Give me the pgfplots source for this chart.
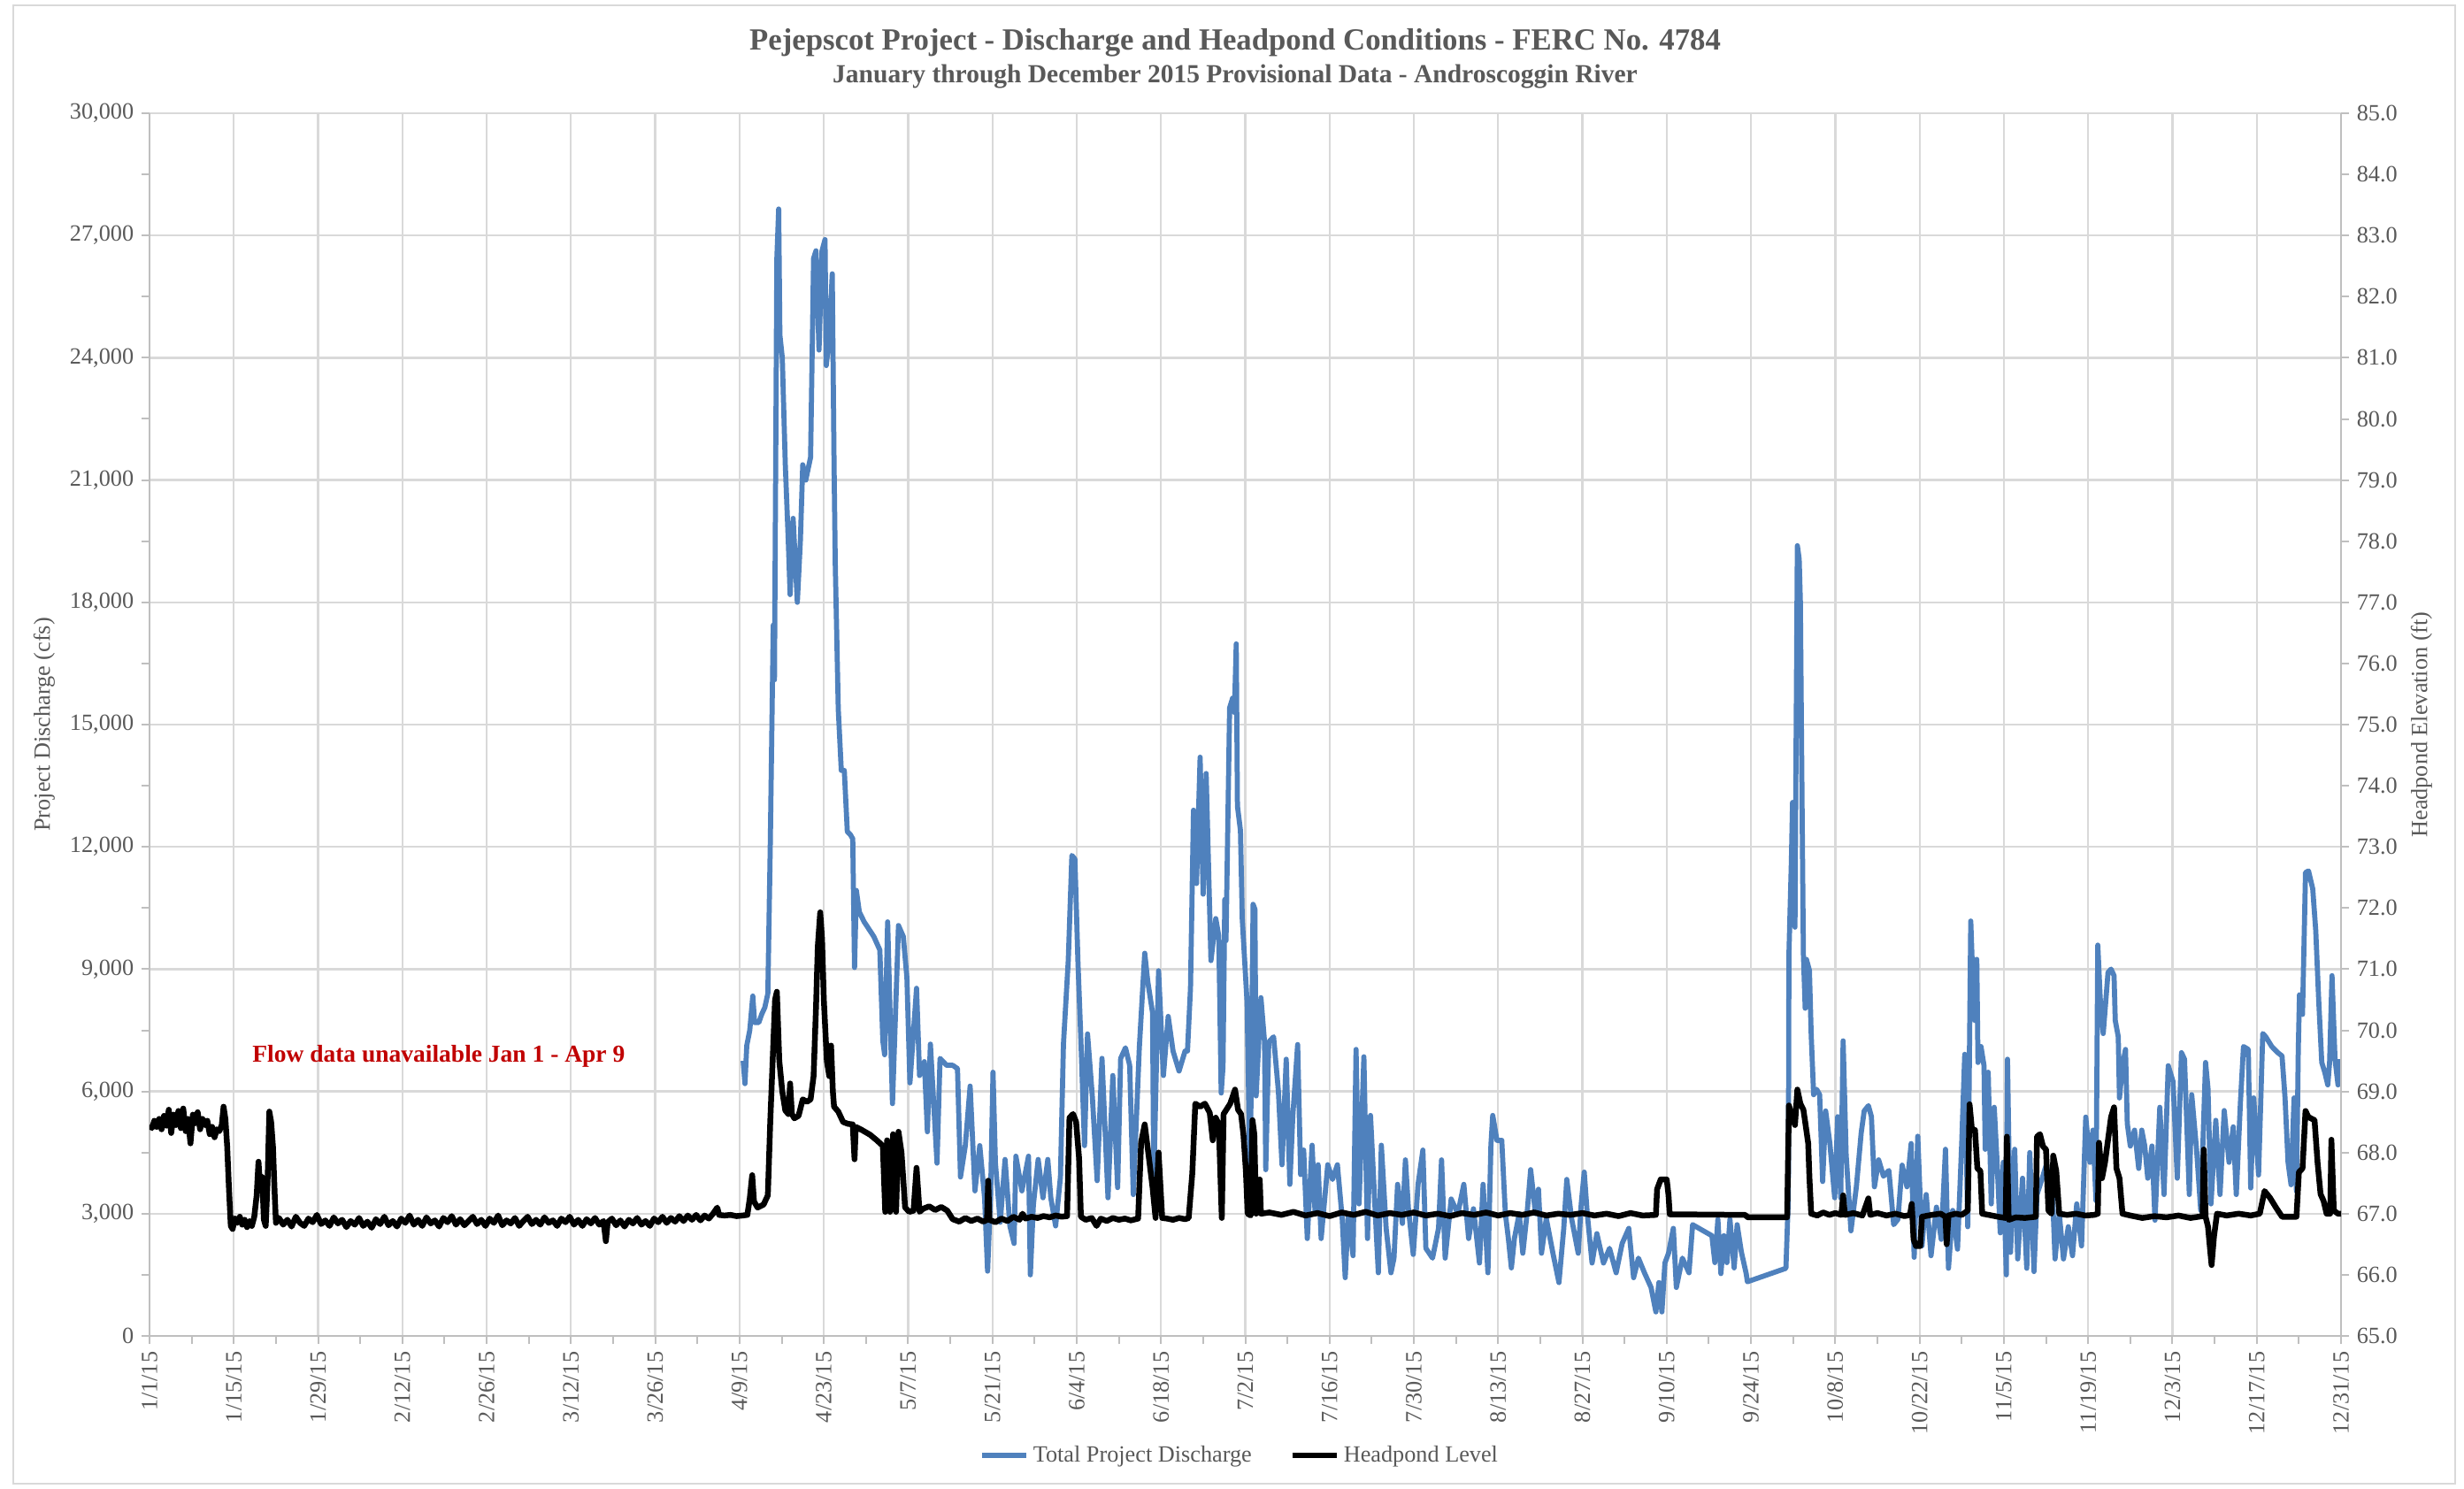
\documentclass[border=0pt]{standalone}
\usepackage{pgfplots}
\pgfplotsset{compat=1.18}
\usepackage{pgfplotstable}
\usepackage{fontspec}
\setmainfont{Liberation Serif}
\definecolor{discharge}{HTML}{4F81BD}
\definecolor{txt}{HTML}{595959}
\definecolor{gridc}{HTML}{D9D9D9}
\definecolor{axisc}{HTML}{BFBFBF}
\definecolor{redtxt}{HTML}{C00000}

\pgfplotstableread{
day cfs
98.6 6750
98.9 6190
99.2 7125
99.7 7500
100.2 8340
100.5 7690
101.2 7690
101.7 7900
102.2 8060
102.7 8400
103.1 12000
103.6 17440
103.8 16100
104.2 26440
104.5 27650
104.7 24560
105.1 24000
105.6 21375
106.1 19500
106.4 18190
106.9 20060
107.6 18000
108.1 19500
108.5 21375
109.0 21000
109.8 21560
110.3 26440
110.7 26625
111.2 24190
111.7 26625
112.2 26900
112.4 23810
112.9 24500
113.4 26060
113.7 21375
113.9 18940
114.4 15375
114.9 13875
115.4 13875
115.9 12375
116.4 12300
116.8 12200
117.1 9040
117.4 10930
117.9 10400
118.7 10160
120.3 9800
121.3 9470
121.8 7240
122.1 6900
122.6 10160
123.4 5700
124.4 10070
125.2 9800
125.8 8790
126.3 6210
127.4 8530
127.9 6390
128.7 6730
129.2 5010
129.7 7160
130.8 4240
131.3 6810
132.4 6640
133.4 6640
134.2 6560
134.7 3900
135.5 4670
136.3 6130
137.1 3560
137.9 4670
138.7 3390
139.2 1590
139.7 3470
140.1 6470
140.5 4240
141.3 2790
142.1 4330
142.9 2700
143.6 2270
143.9 4410
144.9 3560
146.0 4410
146.3 1500
146.8 3210
147.6 4330
148.4 3390
149.2 4330
149.7 3390
150.5 2700
151.3 3900
151.8 7160
152.6 9210
153.2 11790
153.7 11700
154.2 9210
154.7 7240
155.3 4670
155.8 7410
156.6 5870
157.4 3810
158.2 6810
159.2 3390
160.0 6390
160.8 3640
161.3 6810
162.1 7070
162.8 6640
163.4 3470
164.4 7070
165.3 9390
165.8 8700
166.6 7930
166.8 3810
167.6 8960
168.4 6390
169.2 7840
170.0 6990
171.0 6500
172.0 6990
172.4 6990
172.9 8530
173.4 12900
173.9 11100
174.5 14200
175.0 10840
175.5 13800
176.3 9210
177.1 10240
177.6 9810
178.0 5960
178.3 6610
178.6 10710
178.8 9700
179.4 15410
179.9 15650
180.2 15300
180.5 16980
180.7 13000
181.2 12400
181.5 10230
182.3 8180
182.8 3720
183.3 10590
183.6 10470
183.8 5890
184.6 8300
185.2 7210
185.4 4080
185.9 7210
186.7 7340
187.5 6010
188.1 4200
188.8 6790
189.4 3720
189.9 5410
190.7 7150
191.2 3960
191.7 4560
192.3 2390
193.1 4680
193.6 3000
194.1 4200
194.6 2390
195.7 4200
196.5 3840
197.3 4200
198.1 2880
198.6 1430
199.1 3000
199.9 1970
200.4 7030
200.9 3240
201.7 6850
202.3 2390
202.8 5410
203.6 3000
204.1 1550
204.6 4680
205.4 2640
206.2 1550
206.7 1910
207.3 3720
208.1 2760
208.6 4320
209.1 3120
209.9 2000
210.7 3720
211.5 4560
212.0 2150
213.1 1910
214.1 2640
214.6 4320
215.2 1910
216.2 3360
217.3 3000
218.3 3720
219.1 2390
219.9 3120
220.9 1790
221.5 3720
222.3 1550
222.8 4680
223.1 5410
223.8 4800
224.6 4800
225.2 3000
225.7 2390
226.2 1670
226.7 2390
227.5 3000
228.1 2030
228.8 3000
229.4 4080
230.2 3000
230.7 3600
231.2 2030
232.0 2880
233.1 2030
234.1 1310
234.9 2640
235.4 3840
236.2 2880
237.3 2030
237.8 3240
238.3 4020
238.8 3000
239.6 1790
240.4 2510
241.5 1790
242.5 2150
243.6 1550
244.6 2270
245.7 2640
246.5 1430
247.3 1910
248.3 1550
249.4 1190
250.2 590
250.7 1310
251.2 590
251.7 1790
252.3 2030
253.1 2640
253.6 1190
254.6 1910
255.7 1550
256.3 2730
259.5 2460
260.0 1800
260.5 2860
261.0 1530
261.5 2460
262.0 1800
262.5 2860
263.2 1670
263.7 2730
264.4 2060
265.2 1530
265.4 1330
271.8 1660
272.2 3390
272.3 9370
272.7 11620
272.9 13090
273.3 10030
273.5 14810
273.7 19390
274.0 19060
274.2 18000
274.5 12690
274.7 9370
275.0 8040
275.2 9240
275.7 8970
276.0 7380
276.4 5920
276.9 6050
277.4 5920
277.9 3790
278.4 5520
279.1 4720
279.9 3390
280.4 5380
280.9 3390
281.3 7240
281.8 4450
282.6 2580
283.5 3660
284.3 4980
284.8 5520
285.5 5650
286.0 5380
286.5 3660
287.2 4320
288.0 3920
288.9 4060
289.7 2730
290.4 2860
291.1 4190
291.9 3660
292.6 4720
293.1 1930
293.7 4900
294.4 2210
295.1 3470
295.9 1970
296.8 3160
297.6 2370
298.3 4580
298.8 1660
299.5 3080
300.3 2130
301.0 4740
301.5 6910
302.0 2680
302.5 10180
302.7 9320
303.2 7740
303.5 9240
303.7 6710
304.2 7100
304.7 6630
304.9 4580
305.4 6470
305.9 3240
306.4 5610
306.9 4180
307.4 2530
307.9 4260
308.4 1500
308.6 6790
309.1 2050
309.8 4580
310.3 1890
311.1 3870
311.8 1660
312.3 4500
313.0 1580
313.5 3470
314.2 3790
315.0 4180
316.0 3790
316.5 1890
317.2 3000
317.9 1890
318.7 2680
319.4 1970
320.1 3240
320.9 2210
321.6 5370
322.3 4260
322.8 5050
323.3 3320
323.6 9590
324.0 8290
324.5 7420
325.3 8920
325.8 9000
326.3 8840
326.5 7740
327.0 7340
327.2 5840
327.7 6630
328.2 7030
328.5 5210
329.0 4660
329.7 5050
330.4 4110
330.9 5050
331.4 4660
331.9 3870
332.6 4660
333.1 2840
333.9 5610
334.6 3470
335.3 6630
336.1 6240
336.8 3870
337.5 6950
338.0 6790
338.8 3470
339.2 5920
340.0 4580
340.7 3080
341.5 6710
341.9 6080
342.4 3240
343.2 5290
343.9 3470
344.6 5530
345.4 4260
346.1 5130
346.6 3470
347.3 5760
347.8 7100
348.6 7030
349.0 3630
349.5 5840
350.3 3950
351.0 7420
351.5 7340
352.5 7100
353.5 6950
354.2 6870
354.7 5840
355.2 4260
355.7 3710
356.2 5840
356.6 3550
356.9 7030
357.1 8370
357.6 7890
357.9 9950
358.1 11370
358.6 11410
359.3 10970
359.8 9950
360.3 8210
360.8 6710
361.3 6470
361.8 6160
362.1 6710
362.5 8840
363.0 6790
363.5 6160
363.8 6790
}\dischargetable

\pgfplotstableread{
day ft
0 68.45
0.4 68.40
0.8 68.52
1.2 68.42
1.6 68.55
2.0 68.38
2.4 68.60
2.8 68.44
3.2 68.70
3.6 68.32
4.0 68.62
4.4 68.45
4.8 68.68
5.2 68.40
5.6 68.72
6.0 68.35
6.4 68.55
6.8 68.15
7.2 68.62
7.6 68.48
8.0 68.66
8.4 68.38
8.8 68.55
9.2 68.45
9.6 68.52
10.0 68.30
10.4 68.42
10.8 68.25
11.2 68.38
11.6 68.35
12.0 68.45
12.3 68.75
12.6 68.55
12.9 68.10
13.2 67.40
13.5 66.80
13.8 66.75
14.2 66.92
14.6 66.85
15.0 66.95
15.4 66.82
15.8 66.90
16.2 66.78
16.6 66.88
17.0 66.80
17.4 66.95
17.8 67.30
18.1 67.85
18.4 67.40
18.7 67.60
19.0 66.90
19.3 66.80
19.6 67.50
19.9 68.67
20.2 68.50
20.5 68.10
20.8 67.30
21.0 66.85
21.5 66.93
22.2 66.82
22.9 66.90
23.6 66.79
24.3 66.95
25.0 66.85
25.7 66.80
26.4 66.92
27.1 66.86
27.8 66.98
28.5 66.83
29.2 66.89
29.9 66.80
30.6 66.94
31.3 66.84
32.0 66.90
32.7 66.78
33.4 66.88
34.1 66.82
34.8 66.93
35.5 66.80
36.2 66.87
36.9 66.77
37.6 66.91
38.3 66.83
39.0 66.95
39.7 66.81
40.4 66.88
41.1 66.79
41.8 66.92
42.5 66.85
43.2 66.97
43.9 66.82
44.6 66.90
45.3 66.80
46.0 66.94
46.7 66.84
47.4 66.89
48.1 66.79
48.8 66.93
49.5 66.86
50.2 66.96
50.9 66.82
51.6 66.91
52.3 66.81
53.0 66.88
53.7 66.95
54.4 66.83
55.1 66.90
55.8 66.80
56.5 66.92
57.2 66.85
57.9 66.97
58.6 66.81
59.3 66.89
60.0 66.84
60.7 66.93
61.4 66.80
62.1 66.88
62.8 66.95
63.5 66.83
64.2 66.90
64.9 66.82
65.6 66.94
66.3 66.85
67.0 66.89
67.7 66.80
68.4 66.92
69.1 66.86
69.8 66.95
70.5 66.82
71.2 66.90
71.9 66.80
72.6 66.91
73.3 66.84
74.0 66.93
74.7 66.82
75.4 66.88
75.8 66.55
76.1 66.86
76.8 66.92
77.5 66.81
78.2 66.89
78.9 66.79
79.6 66.90
80.3 66.84
81.0 66.93
81.7 66.82
82.4 66.88
83.1 66.80
83.8 66.92
84.5 66.86
85.2 66.95
85.9 66.85
86.6 66.93
87.3 66.87
88.0 66.96
88.7 66.88
89.4 66.97
90.1 66.90
90.8 66.98
91.5 66.89
92.2 66.97
92.9 66.92
93.6 67.00
94.3 67.10
94.6 66.98
95.5 66.97
96.5 66.98
97.5 66.96
98.5 66.97
99.3 66.98
99.7 67.25
100.1 67.63
100.4 67.20
101.0 67.10
102.0 67.15
102.7 67.30
103.1 68.50
103.6 69.75
103.9 70.50
104.2 70.63
104.6 69.50
105.1 69.00
105.6 68.69
106.1 68.63
106.4 69.13
106.7 68.63
107.1 68.56
107.8 68.60
108.5 68.87
109.2 68.83
109.8 68.87
110.3 69.25
110.7 70.37
111.0 71.37
111.4 71.93
111.7 71.50
112.0 70.50
112.5 69.50
112.9 69.25
113.2 69.75
113.5 69.00
113.7 68.75
114.4 68.67
115.2 68.50
116.0 68.47
116.8 68.46
117.1 67.89
117.3 68.42
118.3 68.37
119.7 68.29
120.8 68.20
121.8 68.11
122.2 67.03
122.5 68.20
123.0 67.03
123.5 68.30
124.0 67.03
124.4 68.34
124.9 68.00
125.5 67.10
126.2 67.03
126.9 67.05
127.4 67.75
127.9 67.03
128.5 67.08
129.5 67.12
130.5 67.06
131.5 67.11
132.5 67.05
133.4 66.91
134.5 66.87
135.5 66.93
136.5 66.88
137.5 66.92
138.5 66.87
139.1 66.90
139.3 67.54
139.5 66.90
140.5 66.86
141.5 66.92
142.5 66.88
143.5 66.95
144.5 66.90
145.0 67.00
145.5 66.92
146.5 66.95
147.5 66.93
148.5 66.96
149.5 66.94
150.5 66.97
151.5 66.95
152.4 66.96
152.8 68.57
153.4 68.63
153.9 68.50
154.4 67.90
154.7 66.95
155.5 66.90
156.5 66.93
157.3 66.80
158.0 66.92
159.0 66.88
160.0 66.93
161.0 66.90
162.0 66.92
163.0 66.89
164.2 66.92
164.7 68.17
165.3 68.46
166.1 67.83
166.6 67.43
167.1 66.93
167.6 68.00
168.2 66.93
169.0 66.92
170.0 66.90
171.0 66.93
172.0 66.91
172.6 66.93
173.2 67.66
173.7 68.80
174.5 68.75
175.3 68.80
176.1 68.65
176.6 68.20
177.1 68.57
177.6 68.46
178.1 66.93
178.4 68.63
179.5 68.80
180.3 69.03
180.8 68.70
181.3 68.63
181.7 68.29
182.1 67.70
182.4 67.00
182.9 66.97
183.2 68.53
183.5 68.30
183.8 67.00
184.4 67.56
184.6 67.00
186 67.02
188 66.98
190 67.03
192 66.97
194 67.01
196 66.96
198 67.02
200 66.98
202 67.03
204 66.97
206 67.01
208 66.98
210 67.02
212 66.97
214 67.00
216 66.96
218 67.01
220 66.98
222 67.02
224 66.97
226 67.01
228 66.98
230 67.02
232 66.97
234 67.00
236 66.98
238 67.01
240 66.97
242 67.00
244 66.96
246 67.01
248 66.97
250.2 66.98
250.4 67.40
251.0 67.56
252.0 67.56
252.3 67.30
252.5 66.99
265.0 66.98
265.5 66.94
272.0 66.94
272.3 68.77
272.8 68.60
273.3 68.45
273.7 69.03
274.2 68.80
274.7 68.70
275.0 68.50
275.5 68.15
275.7 67.60
276.0 67.00
277 66.97
278 67.02
279 66.98
280 67.01
281.0 66.98
281.3 67.30
281.6 66.98
283 67.01
284.5 66.97
285.5 67.25
285.8 66.98
287 67.01
288.5 66.97
290 67.00
291.5 66.96
292.4 66.98
292.7 67.16
293.0 66.58
293.4 66.47
294.1 66.47
294.4 66.95
296 66.98
297.5 67.00
298.3 66.95
298.5 66.50
298.8 66.97
300 67.00
301 66.98
302.0 67.05
302.3 68.79
302.7 68.37
303.2 68.37
303.6 67.74
304.1 67.70
304.4 67.00
305.5 66.98
307.0 66.95
308.3 66.93
308.5 68.26
308.8 66.90
310 66.94
311.5 66.93
313.3 66.95
313.5 68.26
314.0 68.30
314.5 68.10
315.0 68.05
315.4 67.05
315.9 67.00
316.2 67.95
316.7 67.70
317.2 67.00
318.5 66.98
320 67.00
321.5 66.97
323.0 66.98
323.6 67.00
323.8 68.16
324.3 67.58
324.8 67.84
325.8 68.58
326.3 68.74
326.7 67.74
327.2 67.58
327.7 67.00
329 66.97
331 66.93
333 66.96
335 66.94
337 66.97
339 66.93
341.0 66.96
341.2 68.05
341.5 66.95
341.9 66.79
342.2 66.47
342.5 66.16
342.9 66.63
343.4 67.00
345 66.97
347 67.00
349 66.97
350.5 67.00
351.3 67.37
352.2 67.26
353.2 67.10
354.2 66.95
356.6 66.95
357.0 67.68
357.6 67.74
358.1 68.68
358.6 68.58
359.6 68.53
360.1 67.84
360.6 67.32
361.1 67.21
361.6 67.00
362.2 67.00
362.4 68.21
362.8 67.05
363.5 67.00
364 67.00
}\headpondtable

\pgfplotsset{
  /pgf/number format/assume math mode=true,
  every axis/.append style={
    scale only axis,
    width=990.8pt, height=552.8pt,
    at={(0pt,0pt)}, anchor=south west,
    xmin=0, xmax=364,
    tick label style={font=\fontsize{10.5}{12}\selectfont, color=txt},
    label style={font=\fontsize{10.5}{12}\selectfont, color=txt},
    axis line style={color=axisc, line width=1pt, -},
    every tick/.style={color=axisc, line width=0.8pt},
    major tick length=3.6pt, minor tick length=3.6pt,
    tick align=outside,
  },
}

\begin{document}
\begin{tikzpicture}
\useasboundingbox (-67.6pt,-68.8pt) rectangle (1046.4pt,604pt);
\fill[white] (-67.6pt,-68.8pt) rectangle (1046.4pt,604pt);
\draw[color=gridc, line width=0.9pt] (-61.6pt,-66.8pt) rectangle (1042.4pt,601.6pt);

\begin{axis}[
  axis x line*=bottom, axis y line*=left,
  ymin=0, ymax=30000,
  ytick={0,3000,...,30000},
  minor y tick num=1,
  scaled y ticks=false,
  yticklabel style={/pgf/number format/.cd, fixed, 1000 sep={,}},
  xtick={0,14,...,364},
  minor x tick num=1,
  xticklabels={1/1/15,1/15/15,1/29/15,2/12/15,2/26/15,3/12/15,3/26/15,4/9/15,4/23/15,5/7/15,5/21/15,6/4/15,6/18/15,7/2/15,7/16/15,7/30/15,8/13/15,8/27/15,9/10/15,9/24/15,10/8/15,10/22/15,11/5/15,11/19/15,12/3/15,12/17/15,12/31/15},
  xticklabel style={rotate=90, anchor=east},
  grid=major,
  major grid style={color=gridc, line width=0.9pt},
  ylabel={Project Discharge (cfs)},
  ylabel style={at={(axis description cs:-0.048,0.5)}, anchor=center},
]
\addplot[color=discharge, line width=2.3pt, line join=round] table[x=day, y=cfs] {\dischargetable};
\node[anchor=west, font=\fontsize{11}{13}\selectfont\bfseries, text=redtxt] at (axis cs:15.8,6860) {Flow data unavailable Jan 1 - Apr 9};
\end{axis}

\begin{axis}[
  axis x line=none, axis y line*=right,
  ymin=65, ymax=85,
  ytick={65,66,...,85},
  yticklabel style={/pgf/number format/.cd, fixed, fixed zerofill, precision=1},
  ylabel={Headpond Elevation (ft)},
  ylabel style={at={(axis description cs:1.0367,0.5)}, anchor=center},
  legend style={at={(axis description cs:0.498,-0.0977)}, anchor=center, legend columns=2, draw=none, fill=none, font=\fontsize{10.5}{12}\selectfont, text=txt, /tikz/every even column/.append style={column sep=15pt}},
  legend image code/.code={\draw[#1] (0pt,0pt) -- (20pt,0pt);},
]
\addlegendimage{color=discharge, line width=2.3pt}
\addlegendentry{Total Project Discharge}
\addplot[color=black, line width=2.6pt, line join=round] table[x=day, y=ft] {\headpondtable};
\addlegendentry{Headpond Level}
\end{axis}

\node[font=\fontsize{13.9}{16}\selectfont\bfseries, text=txt] at (490.8pt,584.8pt) {Pejepscot Project - Discharge and Headpond Conditions - FERC No. 4784};
\node[font=\fontsize{11.8}{14}\selectfont\bfseries, text=txt] at (490.8pt,569.2pt) {January through December 2015 Provisional Data - Androscoggin River};
\end{tikzpicture}
\end{document}
